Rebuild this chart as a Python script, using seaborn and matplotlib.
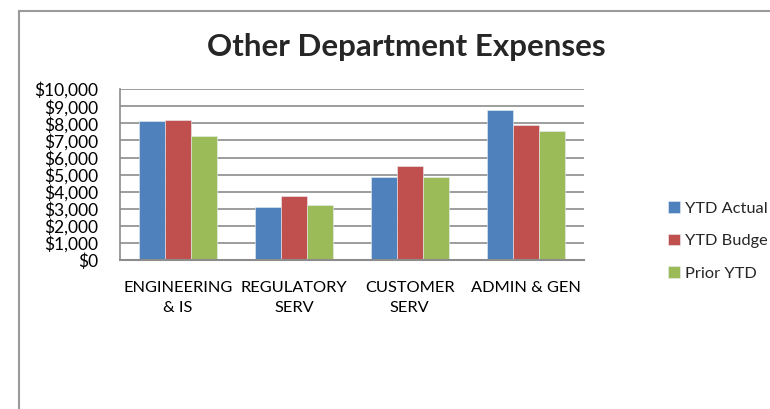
import pandas as pd
import matplotlib.pyplot as plt
import seaborn as sns
from matplotlib.patches import Rectangle
from matplotlib.ticker import FuncFormatter

# Chart data
departments = ['ENGINEERING\n& IS', 'REGULATORY\nSERV', 'CUSTOMER\nSERV', 'ADMIN & GEN']
series_names = ['YTD Actual', 'YTD Budge', 'Prior YTD']
ytd_actual = [8150, 3100, 4880, 8760]
ytd_budget = [8180, 3730, 5490, 7920]
prior_ytd = [7240, 3240, 4840, 7530]
y_ticks = list(range(0, 10001, 1000))

colors = ['#4F81BD', '#C0504D', '#9BBB59']

df = pd.DataFrame({
    'Department': departments * 3,
    'Series': [s for s in series_names for _ in departments],
    'Amount': ytd_actual + ytd_budget + prior_ytd,
})

sns.set_style('white')
plt.rcParams['font.family'] = ['Lato', 'DejaVu Sans']

fig = plt.figure(figsize=(7.7, 4.09), dpi=100)
ax = fig.add_axes([0.156, 0.364, 0.602, 0.418])

# Outer chart-area frame (runs off the right and bottom edges)
fig.patches.append(Rectangle((18.5 / 770, -0.1), 1.2, 1 - 10.5 / 409 + 0.1,
                             transform=fig.transFigure, fill=False,
                             edgecolor='#9a9a9a', linewidth=1.5, zorder=0))

sns.barplot(data=df, x='Department', y='Amount', hue='Series',
            palette=colors, width=0.67, gap=0, saturation=1,
            edgecolor='#e8eef5', linewidth=0.4, ax=ax)

ax.set_ylim(0, 10000)
ax.set_yticks(y_ticks)
ax.yaxis.set_major_formatter(FuncFormatter(lambda v, _: f'${v:,.0f}'))
ax.grid(axis='y', color='#8c8c8c', linewidth=1.2)
ax.set_axisbelow(True)
for side in ['top', 'right']:
    ax.spines[side].set_visible(False)
ax.spines['left'].set_color('#8c8c8c')
ax.spines['left'].set_linewidth(1.2)
ax.spines['bottom'].set_color('#8c8c8c')
ax.spines['bottom'].set_linewidth(1.5)
ax.tick_params(axis='y', length=0, labelsize=12.5, colors='black', pad=16)
ax.tick_params(axis='x', length=0, labelsize=11.8, colors='black', pad=15)
for lbl in ax.get_xticklabels():
    lbl.set_linespacing(1.55)
ax.set_xlabel('')
ax.set_ylabel('')

fig.text(0.528, 0.885, 'Other Department Expenses', ha='center', va='center',
         fontsize=22.5, fontweight='bold')

handles, labels = ax.get_legend_handles_labels()
ax.legend(handles, labels, loc='center left', bbox_to_anchor=(0.868, 0.411),
          bbox_transform=fig.transFigure, frameon=False, fontsize=11.8,
          handlelength=0.7, handleheight=0.7, handletextpad=0.3,
          labelspacing=1.1, borderaxespad=0, borderpad=0)

plt.savefig('out.png', dpi=100)
